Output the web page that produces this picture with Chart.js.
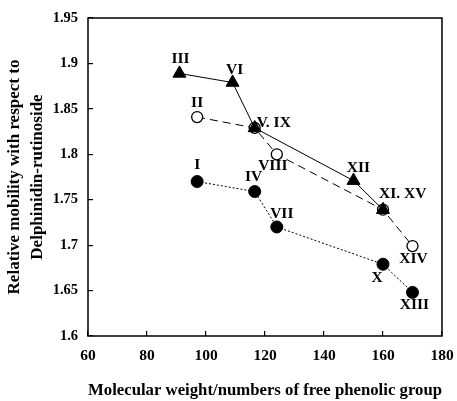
<!DOCTYPE html>
<html>
<head>
<meta charset="utf-8">
<script src="https://cdn.jsdelivr.net/npm/chart.js@4/dist/chart.umd.min.js"></script>
<style>
  html, body { margin: 0; padding: 0; background: #fff; }
  canvas { display: block; }
</style>
</head>
<body>
<canvas id="chart" width="457" height="401"></canvas>
<script>
// values
const triMW = [91, 109, 116.5, 150, 160];
const triMob = [1.889, 1.879, 1.829, 1.771, 1.739];
const triNames = ["III", "VI", "V. IX", "XII", "XI. XV"];

const openMW = [97, 116.5, 124, 160, 170];
const openMob = [1.841, 1.829, 1.8, 1.739, 1.699];
const openNames = ["II", "", "VIII", "", "XIV"];

const fillMW = [97, 116.5, 124, 160, 170];
const fillMob = [1.77, 1.759, 1.72, 1.679, 1.648];
const fillNames = ["I", "IV", "VII", "X", "XIII"];

const xTicks = ["60", "80", "100", "120", "140", "160", "180"];
const yTicks = ["1.6", "1.65", "1.7", "1.75", "1.8", "1.85", "1.9", "1.95"];

const xTitle = "Molecular weight/numbers of free phenolic group";
const yTitle = ["Relative mobility with respect to", "Delphinidin-rutinoside"];

// where each point label sits relative to its marker (dx, dy, align)
const labelPos = {
  "III": [1, -14, "center"],
  "VI": [2, -13, "center"],
  "V. IX": [2, -5, "left"],
  "XII": [5, -13, "center"],
  "XI. XV": [-4, -16, "left"],
  "II": [0, -14, "center"],
  "VIII": [-4, 12, "center"],
  "XIV": [1, 13, "center"],
  "I": [0, -17, "center"],
  "IV": [-1, -15, "center"],
  "VII": [5, -13, "center"],
  "X": [-6, 14, "center"],
  "XIII": [2, 13, "center"],
};

const FONT = "'Liberation Serif', 'Times New Roman', serif";

const toPoints = (xs, ys) => xs.map((x, i) => ({ x: x, y: ys[i] }));

const frame = {
  id: "frame",
  afterDraw(chart) {
    const { ctx, chartArea: a } = chart;
    ctx.save();
    ctx.strokeStyle = "#000";
    ctx.lineWidth = 1.5;
    ctx.strokeRect(a.left, a.top, a.right - a.left, a.bottom - a.top);
    ctx.restore();
  },
};

const pointLabels = {
  id: "pointLabels",
  afterDatasetsDraw(chart) {
    const { ctx } = chart;
    const xs = chart.scales.x;
    const ys = chart.scales.y;
    const sets = [
      [triMW, triMob, triNames],
      [openMW, openMob, openNames],
      [fillMW, fillMob, fillNames],
    ];
    ctx.save();
    ctx.fillStyle = "#000";
    ctx.font = "bold 15.5px " + FONT;
    ctx.textBaseline = "middle";
    sets.forEach(([mx, my, names]) => {
      names.forEach((name, i) => {
        if (!name) return;
        const p = labelPos[name];
        ctx.textAlign = p[2];
        ctx.fillText(name, xs.getPixelForValue(mx[i]) + p[0], ys.getPixelForValue(my[i]) + p[1]);
      });
    });
    ctx.restore();
  },
};

new Chart(document.getElementById("chart"), {
  type: "scatter",
  data: {
    datasets: [
      {
        label: "triangles",
        data: toPoints(triMW, triMob),
        showLine: true,
        borderColor: "#000",
        borderWidth: 1,
        pointStyle: "triangle",
        pointRadius: 7.5,
        pointBackgroundColor: "#000",
        pointBorderColor: "#000",
        pointBorderWidth: 1,
      },
      {
        label: "open",
        data: toPoints(openMW, openMob),
        showLine: true,
        borderColor: "#000",
        borderWidth: 1,
        borderDash: [8, 5],
        pointStyle: "circle",
        pointRadius: 5.5,
        pointBackgroundColor: "#fff",
        pointBorderColor: "#000",
        pointBorderWidth: 1.3,
      },
      {
        label: "filled",
        data: toPoints(fillMW, fillMob),
        showLine: true,
        borderColor: "#000",
        borderWidth: 1,
        borderDash: [2, 2],
        pointStyle: "circle",
        pointRadius: 6,
        pointBackgroundColor: "#000",
        pointBorderColor: "#000",
        pointBorderWidth: 1,
      },
    ],
  },
  options: {
    responsive: false,
    devicePixelRatio: 1,
    animation: false,
    layout: { padding: { left: 0, top: 18, right: 15, bottom: 0 } },
    plugins: {
      legend: { display: false },
      tooltip: { enabled: false },
    },
    scales: {
      x: {
        type: "linear",
        min: 60,
        max: 180,
        afterFit: (s) => {
          s.height = 65;
          s.paddingLeft = 0;
          s.paddingRight = 0;
        },
        border: { display: false },
        grid: { drawOnChartArea: false, tickLength: -5, color: "#000", lineWidth: 1.2 },
        ticks: {
          stepSize: 20,
          padding: 16,
          color: "#000",
          font: { family: FONT, size: 15.5, weight: "bold" },
          callback: (v, i) => xTicks[i],
        },
        title: {
          display: true,
          text: xTitle,
          color: "#000",
          font: { family: FONT, size: 17, weight: "bold" },
          padding: { top: 0, bottom: 0 },
        },
      },
      y: {
        type: "linear",
        min: 1.6,
        max: 1.95,
        afterFit: (s) => {
          s.width = 88;
          s.paddingTop = 0;
          s.paddingBottom = 0;
        },
        border: { display: false },
        grid: { drawOnChartArea: false, tickLength: -5, color: "#000", lineWidth: 1.2 },
        ticks: {
          stepSize: 0.05,
          padding: 15,
          color: "#000",
          font: { family: FONT, size: 14.5, weight: "bold" },
          callback: (v, i) => yTicks[i],
        },
        title: {
          display: true,
          text: yTitle,
          color: "#000",
          font: { family: FONT, size: 17, weight: "bold", lineHeight: 1.3 },
          padding: { top: 4, bottom: 0 },
        },
      },
    },
  },
  plugins: [frame, pointLabels],
});
</script>
</body>
</html>
